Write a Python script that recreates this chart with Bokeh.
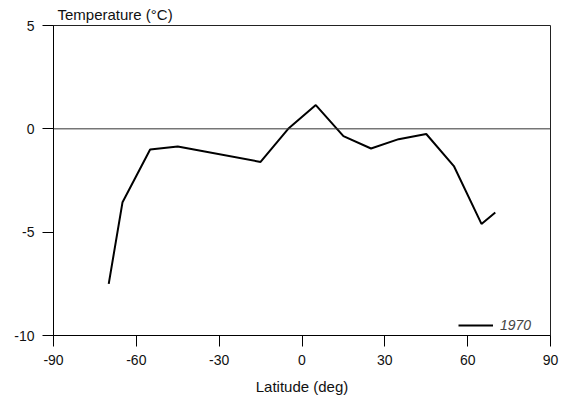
from bokeh.plotting import figure
from bokeh.models import Range1d, Span, FixedTicker, Legend
from bokeh.embed import file_html
from bokeh.resources import INLINE

latitude = [-70, -65, -55, -45, -15, -5, 5, 15, 25, 35, 45, 55, 65, 70]
temperature = [-7.5, -3.55, -1.0, -0.85, -1.6, 0.0, 1.15, -0.35, -0.95, -0.5, -0.25, -1.8, -4.6, -4.05]
series_name = "1970"
x_ticks = [-90, -60, -30, 0, 30, 60, 90]
y_ticks = [-10, -5, 0, 5]

FONT = "Liberation Sans"

p = figure(width=568, height=397, output_backend="svg", toolbar_location=None,
           x_range=Range1d(-90, 90), y_range=Range1d(-10, 5),
           min_border_left=53, min_border_right=18, min_border_top=25, min_border_bottom=60)
p.grid.visible = False
p.outline_line_color = "#222222"
p.outline_line_width = 1
p.background_fill_color = "white"
p.border_fill_color = "white"

p.title.text = "Temperature (°C)"
p.title.align = "left"
p.title.offset = 4
p.title.text_font = FONT
p.title.text_font_size = "15px"
p.title.text_font_style = "normal"
p.title.text_color = "#111111"
p.title.standoff = 6

zero = Span(location=0, dimension="width", line_color="#333333", line_width=1)
p.add_layout(zero)

r = p.line(latitude, temperature, line_color="black", line_width=2)

for ax in (p.xaxis[0], p.yaxis[0]):
    ax.axis_line_color = "black"
    ax.major_tick_line_color = "black"
    ax.major_tick_in = 0
    ax.major_tick_out = 11
    ax.minor_tick_line_color = None
    ax.major_label_text_font = FONT
    ax.major_label_text_font_size = "14px"
    ax.major_label_text_color = "#111111"
    ax.major_label_standoff = 8

p.xaxis.ticker = FixedTicker(ticks=x_ticks)
p.yaxis.ticker = FixedTicker(ticks=y_ticks)
p.xaxis.major_label_overrides = {t: str(t) for t in x_ticks}
p.yaxis.major_label_overrides = {t: str(t) for t in y_ticks}
p.xaxis.axis_label = "Latitude (deg)"
p.xaxis.axis_label_text_font = FONT
p.xaxis.axis_label_text_font_size = "15px"
p.xaxis.axis_label_text_font_style = "normal"
p.xaxis.axis_label_text_color = "#111111"
p.xaxis.axis_label_standoff = 10

legend = Legend(items=[(series_name, [r])], location=(405, 0), padding=3, margin=0,
                border_line_color=None, background_fill_alpha=0,
                label_text_font=FONT, label_text_font_style="italic",
                label_text_font_size="14px", glyph_width=35, label_standoff=7)
p.add_layout(legend)

open("out.html", "w").write(file_html(p, INLINE))
